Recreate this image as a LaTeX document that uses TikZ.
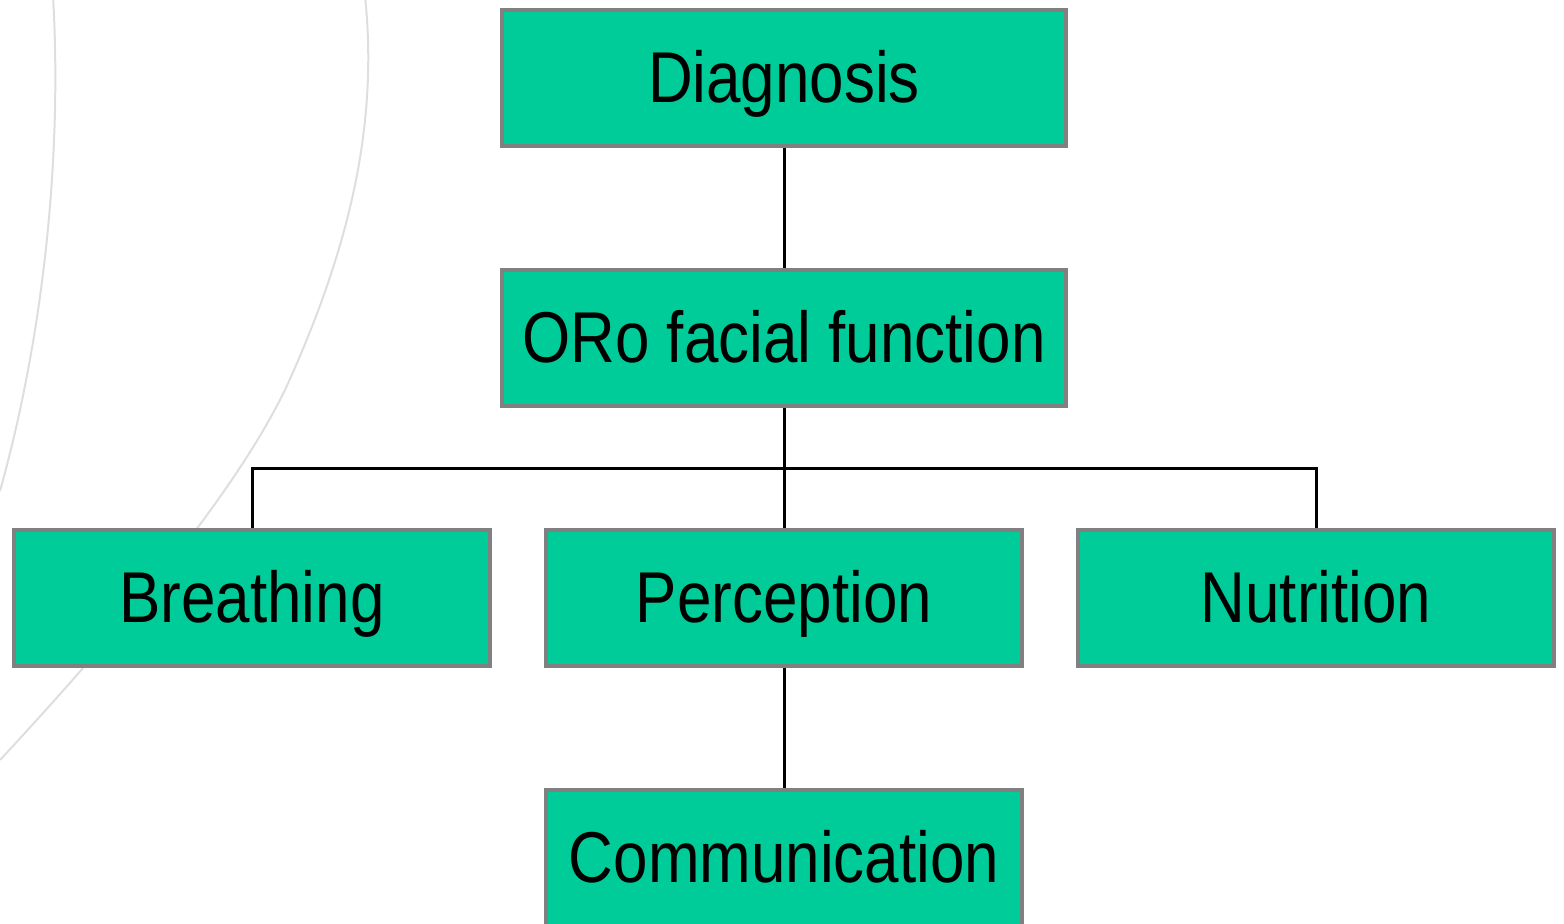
\documentclass[tikz,border=0pt]{standalone}
\usepackage{fontspec}
\setmainfont{Liberation Sans}[FakeStretch=0.86]
\usetikzlibrary{positioning}
\definecolor{boxgreen}{RGB}{0,204,153}
\definecolor{boxgray}{RGB}{128,128,128}
\definecolor{arcgray}{RGB}{222,222,222}

\begin{document}
\begin{tikzpicture}[%
        node distance=60pt and 26pt,
        topbox/.style={%
          rectangle,
          fill=boxgreen,
          draw=boxgray,
          line width=2pt,
          minimum width=282pt,
          minimum height=68pt,
          text height=30pt,
          text depth=6pt,
          font=\fontsize{36}{40}\selectfont
        },
        lowbox/.style={topbox, minimum width=238pt},
        link/.style={draw=black, line width=1.5pt}
      ]
      \useasboundingbox (0,0) rectangle (782pt,-461.5pt);
      % background arcs
      \draw[arcgray, line width=1pt] (26.5pt,2pt)
        .. controls (31pt,-75pt) and (22.5pt,-165pt) .. (0pt,-245.5pt);
      \draw[arcgray, line width=1pt] (182.5pt,2pt)
        .. controls (189pt,-60pt) and (176pt,-120pt) .. (145pt,-189.5pt)
        .. controls (122.5pt,-240pt) and (65pt,-310pt) .. (0pt,-380pt);
      \node[topbox] (diag) at (392pt,-39pt) {Diagnosis};
      \node[topbox] (oro) [below=of diag] {ORo facial function};
      \node[lowbox] (percep) [below=of oro] {Perception};
      \node[lowbox] (breath) [left=of percep] {Breathing};
      \node[lowbox] (nutri) [right=of percep] {Nutrition};
      \node[lowbox] (comm) [below=of percep] {Communication};
      \coordinate (bar) at ([yshift=-30pt]oro.south);
      \path[link] (diag) -- (oro)
        (oro) -- (percep)
        (bar) -| (breath)
        (bar) -| (nutri)
        (percep) -- (comm);
  \end{tikzpicture}
\end{document}
